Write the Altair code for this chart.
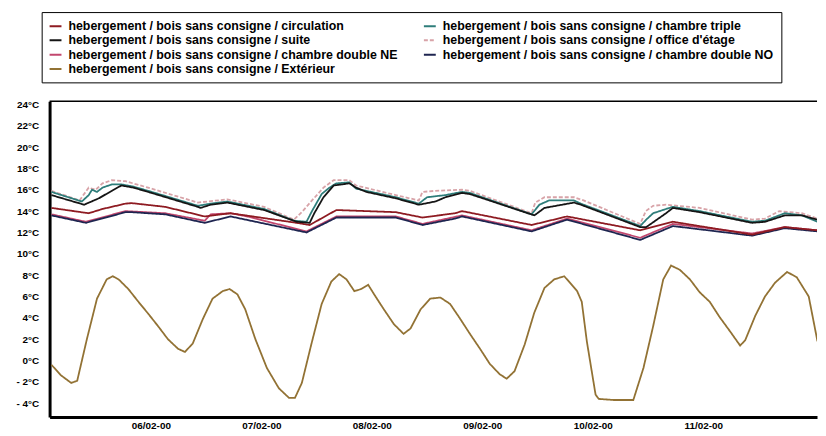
import altair as alt
import pandas as pd

PREFIX = "hebergement / bois sans consigne / "
names = {
    "circ": PREFIX + "circulation",
    "suite": PREFIX + "suite",
    "ne": PREFIX + "chambre double NE",
    "ext": PREFIX + "Extérieur",
    "triple": PREFIX + "chambre triple",
    "office": PREFIX + "office d'étage",
    "no": PREFIX + "chambre double NO",
}

# hours since 05/02-00 00h, temperatures in °C
ext_h = [2.4, 4.5, 6.7, 8.0, 10.1, 12.3, 14.4, 15.7, 17.0, 19.1, 21.3, 23.4, 25.6, 27.7, 29.9, 31.4,
         33.1, 35.3, 37.4, 39.6, 41.1, 42.8, 44.5, 46.7, 49.2, 51.8, 54.0, 55.3, 56.8, 58.9, 61.1,
         63.2, 64.9, 66.5, 68.2, 69.7, 71.2, 72.5, 74.6, 76.8, 78.9, 80.4, 82.6, 84.7, 86.9, 89.0,
         91.2, 93.3, 95.5, 97.6, 99.8, 101.3, 103.0, 105.2, 107.3, 109.5, 111.6, 113.8, 116.6,
         117.6, 118.7, 120.6, 121.3, 124.5, 128.8, 131.0, 133.1, 135.3, 137.0, 138.9, 141.1, 143.2,
         145.4, 147.5, 149.7, 152.0, 153.1, 155.3, 157.4, 159.6, 162.2, 164.3, 166.9, 168.8]
ext_t = [-0.4, -1.4, -2.1, -1.9, 2.0, 5.8, 7.6, 7.9, 7.6, 6.7, 5.5, 4.4, 3.2, 2.0, 1.1, 0.8,
         1.6, 3.9, 5.8, 6.5, 6.7, 6.2, 4.8, 2.0, -0.7, -2.6, -3.5, -3.5, -2.1, 1.6, 5.3,
         7.4, 8.1, 7.6, 6.5, 6.7, 7.1, 6.2, 4.8, 3.4, 2.5, 3.0, 4.8, 5.8, 5.9, 5.3,
         3.9, 2.5, 1.1, -0.3, -1.3, -1.7, -1.0, 1.5, 4.5, 6.8, 7.6, 7.9, 6.5,
         5.5, 1.8, -3.2, -3.6, -3.7, -3.7, -0.7, 3.2, 7.6, 8.9, 8.5, 7.6, 6.4,
         5.5, 4.1, 2.8, 1.4, 1.9, 4.2, 6.0, 7.3, 8.3, 7.8, 6.0, 1.8]

suite_h = [2.4, 9.5, 12.7, 15.9, 17.6, 20.2, 23.4, 34.2, 34.8, 37.0, 40.6, 48.6, 55.7, 58.5, 59.5,
           61.5, 63.7, 67.1, 68.6, 70.8, 77.2, 82.2, 85.8, 88.0, 91.6, 93.3, 107.3, 109.5, 115.9,
           117.4, 130.3, 131.6, 135.9, 137.4, 143.2, 154.6, 157.4, 161.7, 165.4, 168.8]
suite_t = [15.5, 14.6, 15.2, 16.0, 16.4, 16.2, 15.8, 14.4, 14.3, 14.6, 14.8, 14.1, 13.0, 12.9, 13.8,
           15.3, 16.4, 16.6, 16.2, 15.8, 15.2, 14.6, 14.9, 15.3, 15.7, 15.6, 13.6, 14.3, 14.8,
           14.6, 12.5, 12.5, 13.8, 14.3, 13.9, 12.9, 13.0, 13.6, 13.6, 13.2]

triple_h = [2.4, 9.0, 10.5, 11.2, 12.3, 13.5, 15.5, 17.6, 20.2, 23.4, 34.2, 37.0, 40.6, 48.6, 55.1,
            57.8, 59.0, 61.1, 62.8, 64.3, 67.1, 68.6, 70.8, 77.2, 82.2, 84.0, 88.0, 91.6, 93.3,
            106.7, 108.4, 110.5, 115.9, 117.4, 130.3, 131.6, 133.1, 135.9, 137.4, 143.2, 154.6,
            157.4, 161.7, 165.4, 168.8]
triple_t = [15.8, 14.9, 15.5, 16.0, 15.8, 16.2, 16.5, 16.5, 16.3, 15.9, 14.5, 14.7, 14.9, 14.2, 13.1,
            13.0, 14.0, 15.6, 16.2, 16.6, 16.7, 16.1, 15.9, 15.3, 14.7, 15.3, 15.5, 15.8, 15.7,
            13.7, 14.6, 15.0, 15.0, 14.7, 12.6, 13.2, 13.8, 14.2, 14.4, 14.0, 13.0,
            13.1, 13.8, 13.6, 13.0]

office_h = [2.4, 8.5, 10.5, 12.0, 13.5, 15.5, 18.5, 23.4, 34.2, 40.6, 48.6, 55.1, 57.0, 59.0, 61.5,
            63.7, 67.1, 68.6, 77.2, 82.2, 83.0, 85.8, 91.6, 93.3, 106.7, 107.5, 109.5, 115.9, 118.0,
            130.3, 131.5, 133.1, 135.9, 143.2, 154.6, 157.4, 160.5, 165.4, 168.8]
office_t = [15.9, 15.0, 16.2, 16.0, 16.6, 16.9, 16.8, 16.2, 14.8, 15.1, 14.4, 13.2, 14.0, 15.0, 16.2,
            16.9, 16.9, 16.4, 15.5, 15.0, 15.8, 15.9, 16.0, 15.9, 13.8, 14.8, 15.3, 15.3, 15.0,
            12.8, 14.0, 14.5, 14.6, 14.3, 13.2, 13.3, 14.0, 13.8, 13.3]

circ_h = [2.4, 10.5, 13.5, 18.5, 19.8, 27.1, 35.7, 41.3, 55.7, 58.5, 64.3, 77.2, 83.0, 90.1, 91.6,
          106.7, 114.4, 130.3, 137.4, 154.6, 161.7, 168.8]
circ_t = [14.3, 13.8, 14.2, 14.7, 14.75, 14.4, 13.5, 13.8, 12.9, 12.7, 14.1, 13.9, 13.4, 13.8, 14.0,
          12.7, 13.5, 12.2, 13.0, 11.8, 12.5, 12.2]

no_h = [2.4, 9.9, 18.5, 19.8, 27.1, 35.7, 41.3, 57.8, 64.3, 77.2, 83.0, 90.1, 91.6, 106.7, 114.4,
        130.3, 137.4, 154.6, 161.7, 168.8]
no_t = [13.6, 12.9, 13.9, 13.9, 13.7, 12.9, 13.5, 12.0, 13.4, 13.4, 12.7, 13.3, 13.5, 12.1, 13.2,
        11.3, 12.6, 11.7, 12.4, 12.1]

ne_h = [2.4, 9.9, 18.5, 27.1, 35.7, 37.0, 41.3, 44.9, 57.8, 64.3, 77.2, 83.0, 91.6, 106.7, 114.4,
        130.3, 137.4, 154.6, 161.7, 168.8]
ne_t = [13.7, 13.0, 14.0, 13.8, 13.1, 13.7, 13.8, 13.5, 12.1, 13.5, 13.5, 12.8, 13.6, 12.2, 13.3,
        11.5, 12.8, 11.9, 12.5, 12.2]

x_ticks = [24, 48, 72, 96, 120, 144]
x_labels = ["06/02-00", "07/02-00", "08/02-00", "09/02-00", "10/02-00", "11/02-00"]
y_ticks = list(range(-4, 25, 2))

# legend order (column-major, 2 columns of 4 rows)
order = [names["circ"], names["suite"], names["ne"], names["ext"],
         names["triple"], names["office"], names["no"]]
colors = ["#8e1b22", "#151515", "#c2476e", "#927234", "#2e7d7a", "#d8a3a8", "#1e2550"]
dashes = [[1, 0], [1, 0], [1, 0], [1, 0], [1, 0], [4, 2], [1, 0]]

series = [
    ("office", office_h, office_t),
    ("ext", ext_h, ext_t),
    ("ne", ne_h, ne_t),
    ("no", no_h, no_t),
    ("circ", circ_h, circ_t),
    ("triple", triple_h, triple_t),
    ("suite", suite_h, suite_t),
]
rows = []
for key, hs, ts in series:
    for h, t in zip(hs, ts):
        rows.append({"serie": names[key], "h": h, "t": t})
df = pd.DataFrame(rows)

W, H = 775, 319
FONT = "Liberation Sans"

legend = alt.Legend(
    title=None, orient="none", legendX=-8, legendY=-90, columns=2,
    columnPadding=22, rowPadding=0.5, labelFont=FONT, labelFontWeight="bold",
    labelFontSize=12.5, labelColor="black", labelLimit=700, labelOffset=6,
    symbolType="stroke", symbolSize=144, symbolStrokeWidth=2,
    padding=7, strokeColor="black", fillColor="white",
)

xlab_expr = "[" + ",".join("'%s'" % s for s in x_labels) + "][datum.value/24-1]"

lines = alt.Chart(df).mark_line(strokeWidth=1.8, clip=True).encode(
    x=alt.X("h:Q",
            scale=alt.Scale(domain=[2, 168.7], nice=False, zero=False),
            axis=alt.Axis(values=x_ticks, labelExpr=xlab_expr, title=None, grid=False,
                          ticks=False, domainWidth=3, domainColor="black",
                          labelFont=FONT, labelFontWeight="bold", labelFontSize=10,
                          labelColor="black", labelPadding=4)),
    y=alt.Y("t:Q",
            scale=alt.Scale(domain=[-5.3, 24.3], nice=False, zero=False),
            axis=alt.Axis(values=y_ticks,
                          labelExpr="(datum.value < 0 ? '- ' + abs(datum.value) : datum.value) + '°C'",
                          title=None, grid=False, ticks=False, domainWidth=3,
                          domainColor="black", labelFont=FONT, labelFontWeight="bold",
                          labelFontSize=10, labelColor="black", labelPadding=11)),
    color=alt.Color("serie:N", scale=alt.Scale(domain=order, range=colors), legend=legend),
    strokeDash=alt.StrokeDash("serie:N", scale=alt.Scale(domain=order, range=dashes), legend=legend),
)

top = alt.Chart(alt.Data(values=[{}])).mark_rule(color="black", strokeWidth=1.5).encode(
    x=alt.value(0), x2=alt.value(W), y=alt.value(0)
)

chart = alt.layer(lines, top).properties(
    width=W, height=H, autosize="none",
    padding={"left": 42, "top": 92, "right": 1, "bottom": 17},
).configure_view(stroke=None)

chart.save("out.html", embed_options={"renderer": "svg", "actions": False})
